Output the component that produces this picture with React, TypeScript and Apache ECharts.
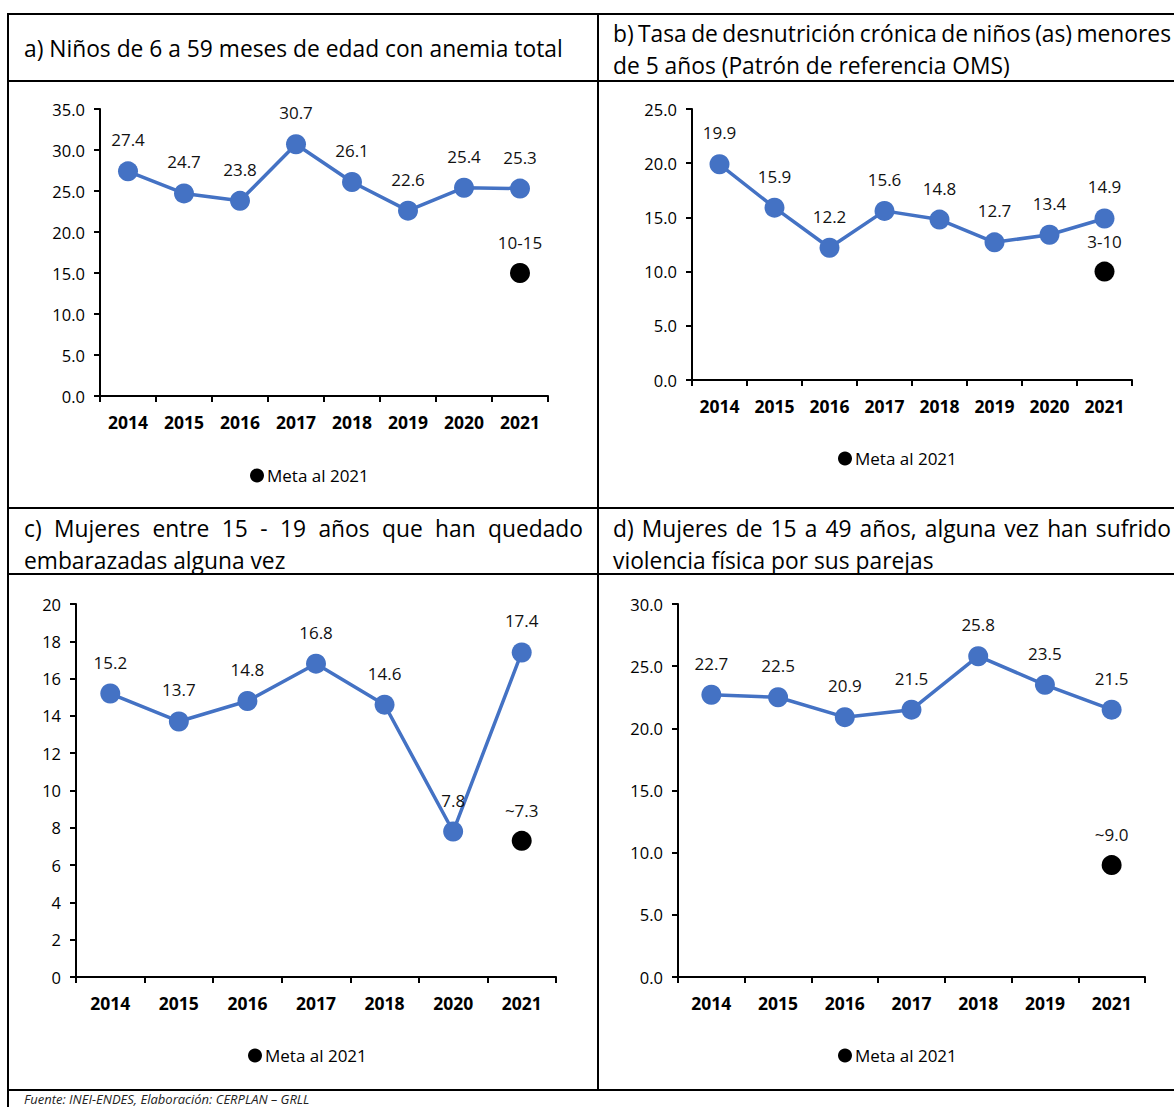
import React, { useEffect, useRef } from "react";
import * as echarts from "echarts";

const FONT = "'Open Sans', 'Noto Sans', sans-serif";

// Panel a
const yearsA = ["2014", "2015", "2016", "2017", "2018", "2019", "2020", "2021"];
const valuesA = [27.4, 24.7, 23.8, 30.7, 26.1, 22.6, 25.4, 25.3];
const metaA = 15;
const metaLabelA = "10-15";
// Panel b
const yearsB = ["2014", "2015", "2016", "2017", "2018", "2019", "2020", "2021"];
const valuesB = [19.9, 15.9, 12.2, 15.6, 14.8, 12.7, 13.4, 14.9];
const metaB = 10;
const metaLabelB = "3-10";
// Panel c
const yearsC = ["2014", "2015", "2016", "2017", "2018", "2020", "2021"];
const valuesC = [15.2, 13.7, 14.8, 16.8, 14.6, 7.8, 17.4];
const metaC = 7.3;
const metaLabelC = "~7.3";
// Panel d
const yearsD = ["2014", "2015", "2016", "2017", "2018", "2019", "2021"];
const valuesD = [22.7, 22.5, 20.9, 21.5, 25.8, 23.5, 21.5];
const metaD = 9.0;
const metaLabelD = "~9.0";

const titleA = ["a) Niños de 6 a 59 meses de edad con anemia total"];
const titleB = ["b) Tasa de desnutrición crónica de niños (as) menores", "de 5 años (Patrón de referencia OMS)"];
const titleC = ["c) Mujeres entre 15 - 19 años que han quedado", "embarazadas alguna vez"];
const titleD = ["d) Mujeres de 15 a 49 años, alguna vez han sufrido", "violencia física por sus parejas"];
const legendName = "Meta al 2021";
const footer = "Fuente: INEI-ENDES, Elaboración: CERPLAN – GRLL";

const BLUE = "#4472C4";
const TXT = "#111";

export default function App() {
  const ref = useRef<HTMLDivElement>(null);
  useEffect(() => {
    if (!ref.current) return;
    const chart = echarts.init(ref.current, undefined, { renderer: "svg" });
    const ctx = document.createElement("canvas").getContext("2d")!;
    const measure = (s: string, size: number) => {
      ctx.font = `${size}px ${FONT}`;
      return ctx.measureText(s).width;
    };
    const HS = Math.max(18, Math.min(24, (20 * 539) / measure(titleA[0], 20)));

    const textEl = (s: string, x: number, y: number, size: number, extra: any = {}) => ({
      type: "text",
      x,
      y,
      silent: true,
      style: { text: s, fontSize: size, fontFamily: FONT, fill: "#000", verticalAlign: "middle", ...extra },
    });
    const justified = (line: string, x0: number, x1: number, y: number) => {
      const words = line.split(" ");
      const ws = words.map((w) => measure(w, HS));
      const total = ws.reduce((a, b) => a + b, 0);
      const gap = Math.max(measure(" ", HS) * 0.5, (x1 - x0 - total) / (words.length - 1));
      const els: any[] = [];
      let x = x0;
      words.forEach((w, i) => {
        els.push(textEl(w, x, y, HS));
        x += ws[i] + gap;
      });
      return els;
    };
    const lineEl = (x1: number, y1: number, x2: number, y2: number) => ({
      type: "line",
      silent: true,
      shape: { x1, y1, x2, y2 },
      style: { stroke: "#000", lineWidth: 2 },
    });

    const graphics: any[] = [
      lineEl(8, 14, 1174, 14),
      lineEl(8, 81, 1174, 81),
      lineEl(8, 508, 1174, 508),
      lineEl(8, 574, 1174, 574),
      lineEl(8, 1090, 1174, 1090),
      lineEl(8, 13, 8, 1107),
      lineEl(598, 13, 598, 1090),
      textEl(titleA[0], 24, 48, HS),
      ...justified(titleB[0], 613, 1171, 33),
      textEl(titleB[1], 613, 65, HS),
      ...justified(titleC[0], 24, 583, 528),
      textEl(titleC[1], 24, 560, HS),
      ...justified(titleD[0], 613, 1171, 528),
      textEl(titleD[1], 613, 560, HS),
      textEl(footer, 24, 1099, 13, { fontStyle: "italic", fill: "#222" }),
    ];

    const panels = [
      { years: yearsA, values: valuesA, meta: metaA, metaLabel: metaLabelA, max: 35, step: 5, dec: 1,
        grid: { left: 100, top: 109, width: 448, height: 287 }, legend: { left: 245, top: 462 } },
      { years: yearsB, values: valuesB, meta: metaB, metaLabel: metaLabelB, max: 25, step: 5, dec: 1,
        grid: { left: 692, top: 109, width: 440, height: 271 }, legend: { left: 833, top: 445 } },
      { years: yearsC, values: valuesC, meta: metaC, metaLabel: metaLabelC, max: 20, step: 2, dec: 0,
        grid: { left: 76, top: 604, width: 480, height: 373 }, legend: { left: 243, top: 1042 } },
      { years: yearsD, values: valuesD, meta: metaD, metaLabel: metaLabelD, max: 30, step: 5, dec: 1,
        grid: { left: 678, top: 604, width: 467, height: 373 }, legend: { left: 833, top: 1042 } },
    ];

    const axisLine = { show: true, lineStyle: { color: "#000", width: 2 } };
    const axisTick = { show: true, length: 6, lineStyle: { color: "#000", width: 2 } };

    const option: any = {
      animation: false,
      textStyle: { fontFamily: FONT },
      grid: panels.map((p) => ({ ...p.grid, containLabel: false })),
      xAxis: panels.map((p, i) => ({
        type: "category",
        gridIndex: i,
        data: p.years,
        boundaryGap: true,
        axisLine,
        axisTick: { ...axisTick, alignWithLabel: false },
        axisLabel: { color: "#000", fontWeight: "bold", fontSize: 17.5, margin: 17, fontFamily: FONT },
        splitLine: { show: false },
      })),
      yAxis: panels.map((p, i) => ({
        type: "value",
        gridIndex: i,
        min: 0,
        max: p.max,
        interval: p.step,
        axisLine,
        axisTick,
        axisLabel: {
          color: "#000",
          fontSize: 16.5,
          margin: 15,
          fontFamily: FONT,
          formatter: (v: number) => v.toFixed(p.dec),
        },
        splitLine: { show: false },
      })),
      legend: panels.map((p) => ({
        data: [legendName],
        left: p.legend.left,
        top: p.legend.top,
        icon: "circle",
        itemWidth: 14,
        itemHeight: 14,
        itemGap: 10,
        itemStyle: { color: "#000", opacity: 1 },
        textStyle: { fontSize: 17, color: "#000", fontFamily: FONT, padding: [0, 0, 0, -2] },
        selectedMode: false,
      })),
      series: panels.flatMap((p, i) => [
        {
          type: "line",
          name: "Serie " + i,
          xAxisIndex: i,
          yAxisIndex: i,
          data: p.values,
          symbol: "circle",
          symbolSize: 20,
          lineStyle: { color: BLUE, width: 3.5 },
          itemStyle: { color: BLUE, opacity: 1 },
          label: {
            show: true,
            position: "top",
            distance: 13,
            fontSize: 17,
            color: TXT,
            fontFamily: FONT,
            formatter: (d: any) => Number(d.value).toFixed(1),
          },
          z: 2,
        },
        {
          type: "scatter",
          name: legendName,
          xAxisIndex: i,
          yAxisIndex: i,
          data: p.years.map((_, k) => (k === p.years.length - 1 ? p.meta : "-")),
          symbol: "circle",
          symbolSize: 20,
          itemStyle: { color: "#000", opacity: 1 },
          label: {
            show: true,
            position: "top",
            distance: 12,
            fontSize: 17,
            color: TXT,
            fontFamily: FONT,
            formatter: () => p.metaLabel,
          },
          z: 3,
        },
      ]),
      graphic: graphics,
    };
    chart.setOption(option);
    return () => chart.dispose();
  }, []);
  return (
    <div
      ref={ref}
      style={{ position: "absolute", left: 0, top: 0, width: 1174, height: 1107, background: "#fff" }}
    />
  );
}
